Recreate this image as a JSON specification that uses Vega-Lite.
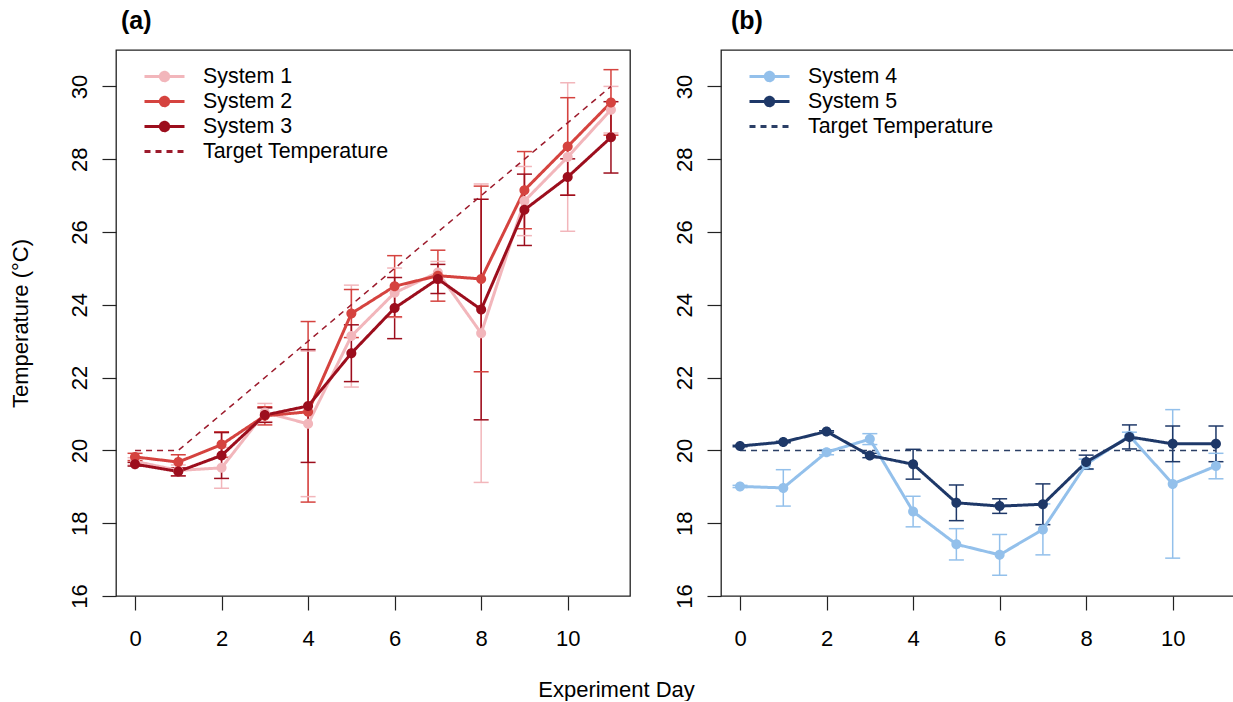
{
  "$schema": "https://vega.github.io/schema/vega-lite/v6.json",
  "padding": {"left": 8, "top": 8, "right": 0, "bottom": 0},
  "background": "white",
  "config": {
    "font": "Liberation Sans",
    "view": {"stroke": "#222", "strokeWidth": 1.3},
    "axis": {"domain": false, "grid": false, "tickColor": "#222", "tickSize": 14, "tickWidth": 1.2, "labelFont": "Liberation Sans", "labelFontSize": 22, "labelColor": "#000", "titleFont": "Liberation Sans", "titleFontSize": 22, "titleFontWeight": "normal", "titleColor": "#000", "labelOverlap": false, "labelFlush": false},
    "legend": {"orient": "none", "legendX": 37, "legendY": 15, "title": null, "padding": 0, "symbolSize": 400, "symbolStrokeWidth": 3, "symbolOpacity": 1, "labelFont": "Liberation Sans", "labelFontSize": 21.4, "labelColor": "#000", "labelOffset": 27, "labelLimit": 0, "rowPadding": 3}
  },
  "datasets": {
    "a": [
      {"day": 0, "series": "System 1", "t": 19.7, "lo": 19.6, "hi": 19.8},
      {"day": 1, "series": "System 1", "t": 19.45, "lo": 19.3, "hi": 19.6},
      {"day": 2, "series": "System 1", "t": 19.52, "lo": 18.96, "hi": 20.08},
      {"day": 3, "series": "System 1", "t": 21.04, "lo": 20.79, "hi": 21.29},
      {"day": 4, "series": "System 1", "t": 20.73, "lo": 18.73, "hi": 22.73},
      {"day": 5, "series": "System 1", "t": 23.14, "lo": 21.74, "hi": 24.54},
      {"day": 6, "series": "System 1", "t": 24.33, "lo": 23.65, "hi": 25.01},
      {"day": 7, "series": "System 1", "t": 24.89, "lo": 24.59, "hi": 25.19},
      {"day": 8, "series": "System 1", "t": 23.22, "lo": 19.12, "hi": 27.32},
      {"day": 9, "series": "System 1", "t": 26.85, "lo": 25.9, "hi": 27.8},
      {"day": 10, "series": "System 1", "t": 28.06, "lo": 26.02, "hi": 30.1},
      {"day": 11, "series": "System 1", "t": 29.36, "lo": 28.72, "hi": 30.0},
      {"day": 0, "series": "System 2", "t": 19.82, "lo": 19.72, "hi": 19.92},
      {"day": 1, "series": "System 2", "t": 19.68, "lo": 19.48, "hi": 19.88},
      {"day": 2, "series": "System 2", "t": 20.16, "lo": 19.81, "hi": 20.51},
      {"day": 3, "series": "System 2", "t": 20.95, "lo": 20.7, "hi": 21.2},
      {"day": 4, "series": "System 2", "t": 21.06, "lo": 18.58, "hi": 23.54},
      {"day": 5, "series": "System 2", "t": 23.76, "lo": 23.1, "hi": 24.42},
      {"day": 6, "series": "System 2", "t": 24.51, "lo": 23.67, "hi": 25.35},
      {"day": 7, "series": "System 2", "t": 24.8, "lo": 24.1, "hi": 25.5},
      {"day": 8, "series": "System 2", "t": 24.71, "lo": 22.16, "hi": 27.26},
      {"day": 9, "series": "System 2", "t": 27.15, "lo": 26.09, "hi": 28.21},
      {"day": 10, "series": "System 2", "t": 28.35, "lo": 27.01, "hi": 29.69},
      {"day": 11, "series": "System 2", "t": 29.56, "lo": 28.66, "hi": 30.46},
      {"day": 0, "series": "System 3", "t": 19.62, "lo": 19.57, "hi": 19.67},
      {"day": 1, "series": "System 3", "t": 19.42, "lo": 19.3, "hi": 19.52},
      {"day": 2, "series": "System 3", "t": 19.86, "lo": 19.23, "hi": 20.49},
      {"day": 3, "series": "System 3", "t": 20.97, "lo": 20.77, "hi": 21.17},
      {"day": 4, "series": "System 3", "t": 21.22, "lo": 19.67, "hi": 22.77},
      {"day": 5, "series": "System 3", "t": 22.67, "lo": 21.89, "hi": 23.45},
      {"day": 6, "series": "System 3", "t": 23.91, "lo": 23.07, "hi": 24.75},
      {"day": 7, "series": "System 3", "t": 24.71, "lo": 24.31, "hi": 25.11},
      {"day": 8, "series": "System 3", "t": 23.87, "lo": 20.84, "hi": 26.9},
      {"day": 9, "series": "System 3", "t": 26.61, "lo": 25.63, "hi": 27.59},
      {"day": 10, "series": "System 3", "t": 27.51, "lo": 27.01, "hi": 28.01},
      {"day": 11, "series": "System 3", "t": 28.6, "lo": 27.62, "hi": 29.58}
    ],
    "ta": [
      {"day": 0, "series": "Target Temperature", "t": 20},
      {"day": 1, "series": "Target Temperature", "t": 20},
      {"day": 11, "series": "Target Temperature", "t": 30}
    ],
    "b": [
      {"day": 0, "series": "System 4", "t": 19.01, "lo": 18.98, "hi": 19.04},
      {"day": 1, "series": "System 4", "t": 18.97, "lo": 18.47, "hi": 19.47},
      {"day": 2, "series": "System 4", "t": 19.95, "lo": 19.88, "hi": 20.02},
      {"day": 3, "series": "System 4", "t": 20.31, "lo": 20.16, "hi": 20.46},
      {"day": 4, "series": "System 4", "t": 18.32, "lo": 17.9, "hi": 18.74},
      {"day": 5, "series": "System 4", "t": 17.42, "lo": 16.99, "hi": 17.85},
      {"day": 6, "series": "System 4", "t": 17.13, "lo": 16.57, "hi": 17.69},
      {"day": 7, "series": "System 4", "t": 17.83, "lo": 17.13, "hi": 18.53},
      {"day": 8, "series": "System 4", "t": 19.62, "lo": 19.48, "hi": 19.76},
      {"day": 9, "series": "System 4", "t": 20.4, "lo": 20.3, "hi": 20.5},
      {"day": 10, "series": "System 4", "t": 19.08, "lo": 17.04, "hi": 21.12},
      {"day": 11, "series": "System 4", "t": 19.57, "lo": 19.22, "hi": 19.92},
      {"day": 0, "series": "System 5", "t": 20.12, "lo": 20.1, "hi": 20.14},
      {"day": 1, "series": "System 5", "t": 20.23, "lo": 20.21, "hi": 20.25},
      {"day": 2, "series": "System 5", "t": 20.52, "lo": 20.5, "hi": 20.54},
      {"day": 3, "series": "System 5", "t": 19.86, "lo": 19.8, "hi": 19.92},
      {"day": 4, "series": "System 5", "t": 19.62, "lo": 19.21, "hi": 20.03},
      {"day": 5, "series": "System 5", "t": 18.56, "lo": 18.07, "hi": 19.05},
      {"day": 6, "series": "System 5", "t": 18.47, "lo": 18.27, "hi": 18.67},
      {"day": 7, "series": "System 5", "t": 18.52, "lo": 17.96, "hi": 19.08},
      {"day": 8, "series": "System 5", "t": 19.68, "lo": 19.49, "hi": 19.87},
      {"day": 9, "series": "System 5", "t": 20.37, "lo": 20.04, "hi": 20.7},
      {"day": 10, "series": "System 5", "t": 20.18, "lo": 19.69, "hi": 20.67},
      {"day": 11, "series": "System 5", "t": 20.18, "lo": 19.69, "hi": 20.67}
    ],
    "tb": [
      {"day": 0, "series": "Target Temperature", "t": 20},
      {"day": 11, "series": "Target Temperature", "t": 20}
    ]
  },
  "hconcat": [
    {
      "width": 514,
      "height": 546,
      "title": {"text": "(a)", "anchor": "start", "frame": "group", "fontSize": 25, "fontWeight": "bold", "font": "Liberation Sans", "color": "#000", "baseline": "alphabetic", "offset": -4, "dx": 5},
      "encoding": {
        "x": {"field": "day", "type": "quantitative", "scale": {"domain": [-0.44, 11.44], "nice": false, "zero": false},
          "axis": {"values": [0, 2, 4, 6, 8, 10], "labelBaseline": "alphabetic", "labelPadding": 35, "title": "Experiment Day", "titleX": 500, "titleY": 100, "titleAlign": "center", "titleBaseline": "alphabetic", "titleAngle": 0}},
        "color": {"field": "series", "type": "nominal",
          "scale": {"domain": ["System 1", "System 2", "System 3", "Target Temperature"], "range": ["#f2b6bb", "#d5433f", "#9c0e1d", "#9c1b2c"]}}
      },
      "layer": [
        {"data": {"name": "a"}, "mark": {"type": "rule", "strokeWidth": 1.5},
          "encoding": {"y": {"field": "lo", "type": "quantitative", "scale": {"domain": [16, 31], "nice": false, "zero": false},
            "axis": {"values": [16, 18, 20, 22, 24, 26, 28, 30], "labelAngle": 270, "labelAlign": "center", "labelBaseline": "alphabetic", "labelPadding": 16,
              "title": "Temperature (°C)", "titleX": -89, "titleY": 273, "titleAngle": 270, "titleAlign": "center", "titleBaseline": "alphabetic"}},
            "y2": {"field": "hi"}}},
        {"data": {"name": "a"}, "mark": {"type": "tick", "orient": "horizontal", "size": 15, "thickness": 1.5, "opacity": 1},
          "encoding": {"y": {"field": "lo", "type": "quantitative"}}},
        {"data": {"name": "a"}, "mark": {"type": "tick", "orient": "horizontal", "size": 15, "thickness": 1.5, "opacity": 1},
          "encoding": {"y": {"field": "hi", "type": "quantitative"}}},
        {"data": {"name": "ta"}, "mark": {"type": "line", "strokeWidth": 1.5},
          "encoding": {"y": {"field": "t", "type": "quantitative"},
            "strokeDash": {"field": "series", "type": "nominal", "scale": {"domain": ["System 1", "System 2", "System 3", "Target Temperature"], "range": [[1, 0], [1, 0], [1, 0], [6, 5]]}}}},
        {"data": {"name": "a"}, "mark": {"type": "line", "strokeWidth": 3},
          "encoding": {"y": {"field": "t", "type": "quantitative"},
            "strokeDash": {"field": "series", "type": "nominal", "scale": {"domain": ["System 1", "System 2", "System 3", "Target Temperature"], "range": [[1, 0], [1, 0], [1, 0], [6, 5]]}}}},
        {"data": {"name": "a"}, "mark": {"type": "point", "filled": true, "size": 567, "opacity": 1},
          "encoding": {"y": {"field": "t", "type": "quantitative"},
            "shape": {"field": "series", "type": "nominal", "scale": {"domain": ["System 1", "System 2", "System 3", "Target Temperature"], "range": ["M-2,0H2M-0.42,0A0.42,0.42,0,1,1,0.42,0A0.42,0.42,0,1,1,-0.42,0Z", "M-2,0H2M-0.42,0A0.42,0.42,0,1,1,0.42,0A0.42,0.42,0,1,1,-0.42,0Z", "M-2,0H2M-0.42,0A0.42,0.42,0,1,1,0.42,0A0.42,0.42,0,1,1,-0.42,0Z", "M-2,0H2"]}}}}
      ]
    },
    {
      "width": 514,
      "height": 546,
      "title": {"text": "(b)", "anchor": "start", "frame": "group", "fontSize": 25, "fontWeight": "bold", "font": "Liberation Sans", "color": "#000", "baseline": "alphabetic", "offset": -4, "dx": 10},
      "encoding": {
        "x": {"field": "day", "type": "quantitative", "scale": {"domain": [-0.44, 11.44], "nice": false, "zero": false},
          "axis": {"values": [0, 2, 4, 6, 8, 10], "labelBaseline": "alphabetic", "labelPadding": 35, "title": null}},
        "color": {"field": "series", "type": "nominal",
          "scale": {"domain": ["System 4", "System 5", "Target Temperature"], "range": ["#93c0eb", "#1e3868", "#2b3f66"]}}
      },
      "layer": [
        {"data": {"name": "b"}, "mark": {"type": "rule", "strokeWidth": 1.5},
          "encoding": {"y": {"field": "lo", "type": "quantitative", "scale": {"domain": [16, 31], "nice": false, "zero": false},
            "axis": {"values": [16, 18, 20, 22, 24, 26, 28, 30], "labelAngle": 270, "labelAlign": "center", "labelBaseline": "alphabetic", "labelPadding": 16, "title": null}},
            "y2": {"field": "hi"}}},
        {"data": {"name": "b"}, "mark": {"type": "tick", "orient": "horizontal", "size": 15, "thickness": 1.5, "opacity": 1},
          "encoding": {"y": {"field": "lo", "type": "quantitative"}}},
        {"data": {"name": "b"}, "mark": {"type": "tick", "orient": "horizontal", "size": 15, "thickness": 1.5, "opacity": 1},
          "encoding": {"y": {"field": "hi", "type": "quantitative"}}},
        {"data": {"name": "tb"}, "mark": {"type": "line", "strokeWidth": 1.5},
          "encoding": {"y": {"field": "t", "type": "quantitative"},
            "strokeDash": {"field": "series", "type": "nominal", "scale": {"domain": ["System 4", "System 5", "Target Temperature"], "range": [[1, 0], [1, 0], [6, 5]]}}}},
        {"data": {"name": "b"}, "mark": {"type": "line", "strokeWidth": 3},
          "encoding": {"y": {"field": "t", "type": "quantitative"},
            "strokeDash": {"field": "series", "type": "nominal", "scale": {"domain": ["System 4", "System 5", "Target Temperature"], "range": [[1, 0], [1, 0], [6, 5]]}}}},
        {"data": {"name": "b"}, "mark": {"type": "point", "filled": true, "size": 567, "opacity": 1},
          "encoding": {"y": {"field": "t", "type": "quantitative"},
            "shape": {"field": "series", "type": "nominal", "scale": {"domain": ["System 4", "System 5", "Target Temperature"], "range": ["M-2,0H2M-0.42,0A0.42,0.42,0,1,1,0.42,0A0.42,0.42,0,1,1,-0.42,0Z", "M-2,0H2M-0.42,0A0.42,0.42,0,1,1,0.42,0A0.42,0.42,0,1,1,-0.42,0Z", "M-2,0H2"]}}}}
      ]
    }
  ],
  "spacing": 91,
  "bounds": "flush",
  "resolve": {"scale": {"color": "independent", "shape": "independent", "strokeDash": "independent", "x": "independent", "y": "independent"}, "legend": {"color": "independent", "shape": "independent", "strokeDash": "independent"}}
}
